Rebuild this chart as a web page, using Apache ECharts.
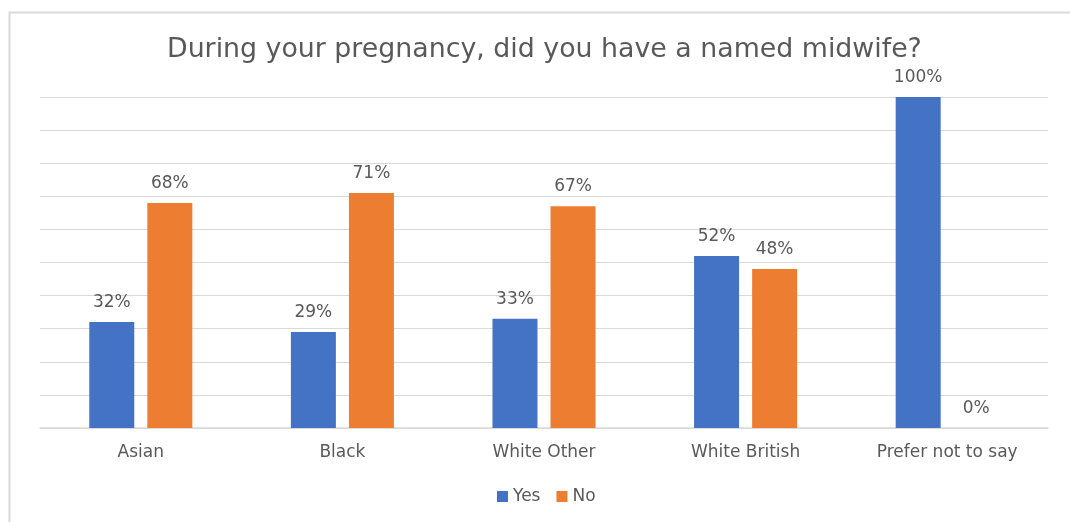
<!DOCTYPE html>
<html>
<head>
<meta charset="utf-8">
<script src="https://cdn.jsdelivr.net/npm/echarts@6/dist/echarts.min.js"></script>
<style>
  html, body { margin: 0; padding: 0; background: #fff; }
  #chart { width: 1070px; height: 522px; }
</style>
</head>
<body>
<div id="chart"></div>
<script>
// Ethnic groups shown along the x axis
const categories = ['Asian', 'Black', 'White Other', 'White British', 'Prefer not to say'];
// Share of respondents (%) answering each way
const yesValues = [32, 29, 33, 52, 100];
const noValues = [68, 71, 67, 48, 0];
const seriesNames = ['Yes', 'No'];

const textColor = '#595959';
const fontFamily = '"DejaVu Sans", "Open Sans", sans-serif';

const chart = echarts.init(document.getElementById('chart'), null, { renderer: 'canvas' });

const barLabel = {
  show: true,
  position: 'top',
  distance: 11,
  formatter: p => p.value + '%',
  color: textColor,
  fontFamily: fontFamily,
  fontSize: 17
};

chart.setOption({
  backgroundColor: '#ffffff',
  animation: false,
  title: {
    text: 'During your pregnancy, did you have a named midwife?',
    left: 162,
    top: 32,
    textStyle: {
      color: textColor,
      fontFamily: fontFamily,
      fontSize: 26.8,
      fontWeight: 'normal'
    }
  },
  legend: {
    data: seriesNames,
    bottom: 12,
    left: 492,
    itemWidth: 11,
    itemHeight: 11,
    itemGap: 16,
    icon: 'rect',
    textStyle: { color: textColor, fontFamily: fontFamily, fontSize: 17 }
  },
  grid: { left: 40, right: 22, top: 97, bottom: 94 },
  xAxis: {
    type: 'category',
    data: categories,
    axisLine: { show: true, lineStyle: { color: '#d9d9d9', width: 1.5 } },
    axisTick: { show: false },
    axisLabel: {
      color: textColor,
      fontFamily: fontFamily,
      fontSize: 17,
      margin: 16
    }
  },
  yAxis: {
    type: 'value',
    min: 0,
    max: 100,
    interval: 10,
    axisLine: { show: false },
    axisTick: { show: false },
    axisLabel: { show: false },
    splitLine: { lineStyle: { color: '#d9d9d9', width: 1 } }
  },
  series: [
    {
      name: seriesNames[0],
      type: 'bar',
      data: yesValues,
      barWidth: 45,
      barGap: '29%',
      itemStyle: { color: '#4472C4' },
      label: barLabel
    },
    {
      name: seriesNames[1],
      type: 'bar',
      data: noValues,
      barWidth: 45,
      barGap: '29%',
      itemStyle: { color: '#ED7D31' },
      label: barLabel
    }
  ],
  graphic: [
    {
      type: 'polyline',
      silent: true,
      shape: { points: [[9.5, 530], [9.5, 12.5], [1080, 12.5]] },
      style: { stroke: '#d9d9d9', lineWidth: 2, fill: null }
    }
  ]
});
</script>
</body>
</html>
